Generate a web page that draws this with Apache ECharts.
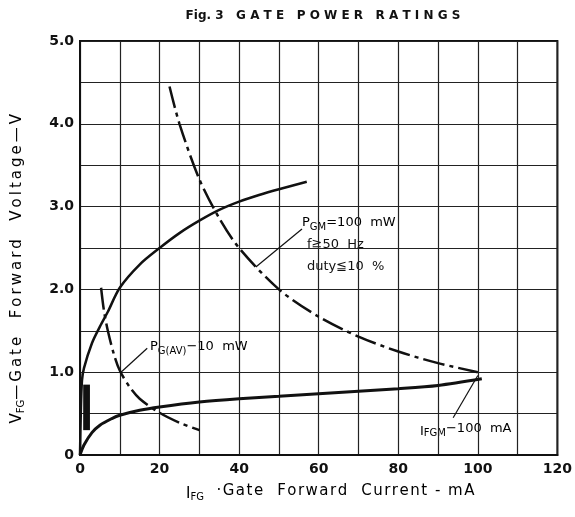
<!DOCTYPE html>
<html>
<head>
<meta charset="utf-8">
<script src="https://cdn.jsdelivr.net/npm/echarts@6/dist/echarts.min.js"></script>
<style>
  html, body { margin: 0; padding: 0; background: #fff; }
  #chart { width: 575px; height: 517px; }
</style>
</head>
<body>
<div id="chart"></div>
<script>
// curves: [mA, V]
var maxCurve = [[0, 0], [0.2, 0.5], [0.5, 0.9], [1, 1.05], [3, 1.35], [5, 1.55], [7, 1.73], [10, 2.02],
  [15, 2.3], [20, 2.5], [25, 2.68], [30, 2.83], [35, 2.96], [40, 3.06], [45, 3.14], [50, 3.21], [57, 3.3]];
var minCurve = [[0, 0], [1, 0.12], [3, 0.27], [5, 0.36], [8, 0.44], [10, 0.48], [15, 0.54], [20, 0.58],
  [30, 0.64], [40, 0.68], [50, 0.71], [60, 0.74], [70, 0.77], [80, 0.8], [90, 0.84], [101, 0.92]];
var pgmCurve = [[22.5, 4.45], [25, 4.0], [30, 3.33], [35, 2.86], [40, 2.5], [50, 2.0], [60, 1.67],
  [70, 1.43], [80, 1.25], [90, 1.11], [100, 1.0]];
var pgavCurve = [[5.3, 2.02], [6, 1.75], [7, 1.5], [8.5, 1.22], [10, 1.02], [12.5, 0.82], [15, 0.68],
  [20, 0.51], [25, 0.39], [30, 0.3]];
var pgmLeader = [[55.8, 2.73], [44.2, 2.27]];
var pgavLeader = [[16.9, 1.29], [10.3, 1.0]];
var ifgmLeader = [[93.8, 0.45], [100, 0.96]];
var xTicks = [0, 20, 40, 60, 80, 100, 120];
var yTicks = [0, 1, 2, 3, 4, 5];

var font = 'DejaVu Sans';

// spread letters out a bit, like the printed figure
function spaced(s, gap) {
  return s.split('').join(gap);
}

function line(data, width, dash) {
  return {
    type: 'line', data: data, symbol: 'none', smooth: 0.3, silent: true,
    lineStyle: { color: '#111', width: width, type: dash || 'solid' }
  };
}

function initChart() {
  var chart = echarts.init(document.getElementById('chart'));
  var sub = { fontSize: 10, fontFamily: font, color: '#111', verticalAlign: 'bottom', padding: [6, 0, 0, 0] };
  var txt = { fontSize: 13, fontFamily: font, color: '#111', verticalAlign: 'top', lineHeight: 14 };
  var big = { fontSize: 15, fontFamily: font, color: '#111', verticalAlign: 'top', lineHeight: 16 };
  var series = [
    line(maxCurve, 2.5),
    line(minCurve, 3),
    line(pgmCurve, 2.5, [22, 5, 4, 5]),
    line(pgavCurve, 2.5, [22, 5, 4, 5]),
    line(pgmLeader, 1.2),
    line(pgavLeader, 1.2),
    line(ifgmLeader, 1.2)
  ];
  series[0].markArea = {
    silent: true,
    itemStyle: { color: '#111' },
    data: [[{ coord: [0.8, 0.3] }, { coord: [2.5, 0.85] }]]
  };
  var option = {
    animation: false,
    title: {
      text: 'Fig. 3   G A T E   P O W E R   R A T I N G S',
      left: 318, top: 5, textAlign: 'center',
      textStyle: { fontFamily: font, fontSize: 12, fontWeight: 'bold', color: '#111' }
    },
    grid: { left: 80, right: 12, top: 41, bottom: 62, show: true, borderColor: '#111', borderWidth: 2 },
    xAxis: {
      type: 'value', min: 0, max: 120, interval: 10,
      axisLine: { lineStyle: { color: '#111', width: 2 } },
      axisTick: { show: false },
      axisLabel: {
        margin: 7, fontFamily: font, fontSize: 14, fontWeight: 'bold', color: '#111',
        formatter: function (v) { return xTicks.indexOf(v) >= 0 ? String(v) : ''; }
      },
      splitLine: { lineStyle: { color: '#222', width: 1.2 } }
    },
    yAxis: {
      type: 'value', min: 0, max: 5, interval: 0.5,
      axisLine: { lineStyle: { color: '#111', width: 2 } },
      axisTick: { show: false },
      axisLabel: {
        margin: 6, fontFamily: font, fontSize: 14, fontWeight: 'bold', color: '#111',
        formatter: function (v) {
          if (yTicks.indexOf(v) < 0) return '';
          return v === 0 ? '0' : v.toFixed(1);
        }
      },
      splitLine: { lineStyle: { color: '#222', width: 1.2 } }
    },
    graphic: [
      {
        type: 'text', left: 302, top: 216,
        style: { text: '{t|P}{s|GM}{t|=100  mW}', rich: { t: txt, s: sub } }
      },
      { type: 'text', left: 307, top: 238, style: { text: 'f≧50  Hz', font: '13px ' + font, fill: '#111' } },
      { type: 'text', left: 307, top: 260, style: { text: 'duty≦10  %', font: '13px ' + font, fill: '#111' } },
      {
        type: 'text', left: 150, top: 340,
        style: { text: '{t|P}{s|G(AV)}{t|−10  mW}', rich: { t: txt, s: sub } }
      },
      {
        type: 'text', left: 420, top: 422,
        style: { text: '{s|I}{s2|FGM}{t|−100  mA}', rich: { t: txt, s: { fontSize: 13, fontFamily: font, color: '#111', verticalAlign: 'bottom', padding: [3, 0, 0, 0] }, s2: sub } }
      },
      {
        type: 'text', left: 186, top: 484,
        style: {
          text: '{s|I}{s2|FG}{t|' + spaced('  ·Gate  Forward  Current - mA', '\u200A') + '}',
          rich: { t: big, s: { fontSize: 15, fontFamily: font, color: '#111', verticalAlign: 'bottom', padding: [3, 0, 0, 0] }, s2: sub }
        }
      },
      {
        type: 'text', left: 10, top: 114, rotation: Math.PI / 2,
        style: {
          text: '{t|V}{s|FG}{t|' + spaced('—Gate  Forward  Voltage—V', '\u2009') + '}',
          rich: { t: big, s: sub }
        }
      }
    ],
    series: series
  };
  chart.setOption(option);
}

document.addEventListener('DOMContentLoaded', function () {
  initChart();
});
</script>
</body>
</html>
